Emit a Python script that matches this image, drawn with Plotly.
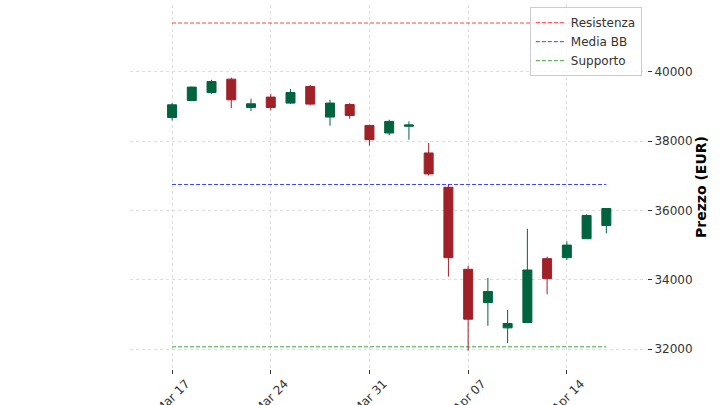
import plotly.graph_objects as go

dates = ["2025-03-17", "2025-03-18", "2025-03-19", "2025-03-20", "2025-03-21",
         "2025-03-24", "2025-03-25", "2025-03-26", "2025-03-27", "2025-03-28",
         "2025-03-31", "2025-04-01", "2025-04-02", "2025-04-03", "2025-04-04",
         "2025-04-07", "2025-04-08", "2025-04-09", "2025-04-10", "2025-04-11",
         "2025-04-14", "2025-04-15", "2025-04-16"]
opens = [38685, 39174, 39404, 39790, 38973,
         39272, 39099, 39577, 38696, 39059,
         38455, 38236, 38430, 37660, 36670,
         34302, 33343, 32612, 32767, 34609,
         34638, 35185, 35568]
highs = [39099, 39577, 39770, 39836, 39223,
         39367, 39502, 39626, 39194, 39099,
         38475, 38619, 38570, 37948, 36748,
         34398, 34051, 33130, 35473, 34667,
         35107, 35893, 36070]
lows = [38598, 39157, 39367, 38955, 38869,
        38886, 39079, 39030, 38446, 38647,
        37870, 38167, 38043, 37007, 34091,
        31950, 32670, 32172, 32750, 33582,
        34569, 35185, 35338]
closes = [39050, 39560, 39721, 39194, 39079,
          38973, 39404, 39070, 39099, 38742,
          38043, 38570, 38470, 37056, 34638,
          32863, 33660, 32739, 34282, 34034,
          35001, 35856, 36057]

tick_dates = ["2025-03-17", "2025-03-24", "2025-03-31", "2025-04-07", "2025-04-14"]
tick_labels = ["Mar 17", "Mar 24", "Mar 31", "Apr 07", "Apr 14"]

level_names = ["Resistenza", "Media BB", "Supporto"]
level_values = [41410, 36750, 32065]
level_colors = ["rgba(255,0,0,0.75)", "rgba(0,0,255,0.75)", "rgba(0,128,0,0.75)"]

UP = "#006340"
DOWN = "#A02128"

fig = go.Figure()
fig.add_trace(go.Candlestick(
    x=dates, open=opens, high=highs, low=lows, close=closes,
    increasing=dict(line=dict(color=UP, width=1), fillcolor=UP),
    decreasing=dict(line=dict(color=DOWN, width=1), fillcolor=DOWN),
    whiskerwidth=0, showlegend=False,
))
for name, val, col in zip(level_names, level_values, level_colors):
    fig.add_trace(go.Scatter(
        x=[dates[0], dates[-1]], y=[val, val], mode="lines", name=name,
        line=dict(color=col, width=1, dash="4px,2px"),
    ))

fig.update_layout(
    width=720, height=405,
    margin=dict(l=130, r=73, t=5, b=36, autoexpand=False),
    paper_bgcolor="white", plot_bgcolor="white",
    font=dict(family="DejaVu Sans", size=12, color="#333333"),
    boxgap=0.35,
    legend=dict(x=0.99, y=0.994, xanchor="right", yanchor="top",
                bgcolor="rgba(255,255,255,0.8)", bordercolor="#cccccc", borderwidth=1,
                font=dict(size=12, color="#333333"), tracegroupgap=0),
)
fig.update_xaxes(
    type="category", range=[-2.13, 24.06], automargin=False,
    rangeslider=dict(visible=False),
    tickmode="array", tickvals=tick_dates, ticktext=tick_labels,
    tickangle=-45, ticks="outside", ticklen=4, tickcolor="#333333",
    tickfont=dict(size=12),
    showgrid=True, gridcolor="#dcdcdc", griddash="dot", gridwidth=1,
    showline=False, zeroline=False, ticklabelshift=14, ticklabelstandoff=-2,
)
fig.update_yaxes(
    side="right", range=[31425, 41930], automargin=False,
    tickvals=[32000, 34000, 36000, 38000, 40000], tickformat="d",
    ticks="outside", ticklen=4, tickcolor="#333333",
    tickfont=dict(size=12),
    showgrid=True, gridcolor="#dcdcdc", griddash="dot", gridwidth=1,
    showline=False, zeroline=False,
    title=dict(text="<b>Prezzo (EUR)</b>", font=dict(size=14, color="#000000"), standoff=4),
)

fig.write_html("out.html", config={"displayModeBar": False},
               post_script="document.body.style.margin='0';document.body.style.overflow='hidden';")
